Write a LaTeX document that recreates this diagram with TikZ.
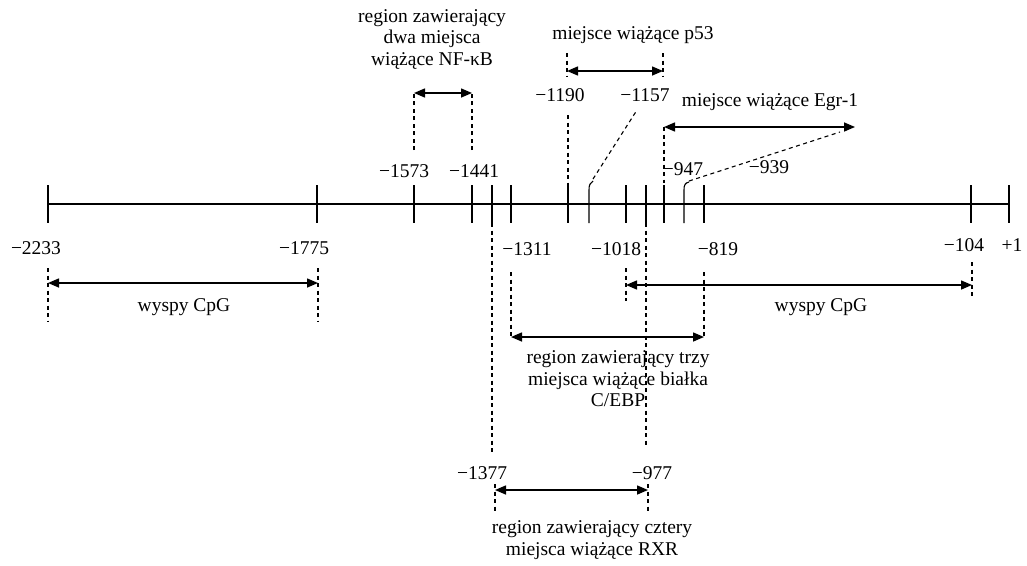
\documentclass[tikz,border=0pt]{standalone}
\usepackage{fontspec}
\setmainfont{Liberation Serif}
\usetikzlibrary{arrows.meta,calc}
\tikzset{
  baseline/.style={line width=1.1pt},
  tickline/.style={line width=1.1pt},
  guide/.style={line width=1.1pt, dash pattern=on 4pt off 3.5pt},
  span/.style={line width=1.5pt, {Triangle[length=11pt,width=9pt]}-{Triangle[length=11pt,width=9pt]}},
  lbl/.style={font=\fontsize{19.5}{21.5}\selectfont, inner sep=0pt},
  blk/.style={lbl, align=center},
}
\begin{document}
\begin{tikzpicture}[x=1pt,y=-1pt]
\useasboundingbox (0,0) rectangle (1027,565);
% main line
\coordinate (L) at (48,204);
\coordinate (R) at (1009,204);
\draw[baseline] (L) -- (R);
% ticks
\foreach \n/\x in {2233/48, 1775/317, 1573/414, 1441/472, 1377/492, 1311/511, 1190/568, 1018/626, 977/646, 947/664, 819/704, 104/971, p1/1009}{
  \coordinate (t\n) at (\x,204);
  \draw[tickline] ($(t\n)+(0,-19)$) -- ($(t\n)+(0,19)$);
}
\coordinate (t1157) at (589,204);
\coordinate (t939) at (684,204);
\draw[tickline] ($(t1157)+(0,19)$) -- ($(t1157)+(0,-14)$) .. controls ($(t1157)+(0,-19)$) and ($(t1157)+(1,-21)$) .. ($(t1157)+(4,-23)$);
\draw[tickline] ($(t939)+(0,19)$) -- ($(t939)+(0,-14)$) .. controls ($(t939)+(0,-19)$) and ($(t939)+(1,-21)$) .. ($(t939)+(5,-22)$);

% labels above
\node[lbl] (l1573) at (404,171) {−1573};
\node[lbl] (l1441) at (474,171) {−1441};
\node[lbl] (l947) at (683,169) {−947};
\node[lbl] (l939) at (769,167) {−939};
\node[lbl] (l1190) at (560,95) {−1190};
\node[lbl] (l1157) at (645,95) {−1157};
\node[blk] (nftxt) at (432,39) {region zawierający\\dwa miejsca\\wiążące NF-κB};
\node[lbl] (p53txt) at (633,35) {miejsce wiążące p53};
\node[lbl] (egrtxt) at (770,102) {miejsce wiążące Egr-1};

% labels below
\node[lbl] (l2233) at (36,248) {−2233};
\node[lbl] (l1775) at (304,248) {−1775};
\node[lbl] (l1311) at (527,249) {−1311};
\node[lbl] (l1018) at (616,249) {−1018};
\node[lbl] (l819) at (718,249) {−819};
\node[lbl] (l104) at (964,245) {−104};
\node[lbl] (lp1) at (1012,245) {+1};
\node[lbl] (cpg1) at (184,307) {wyspy CpG};
\node[lbl] (cpg2) at (821,307) {wyspy CpG};
\node[blk] (cebptxt) at (618,379) {region zawierający trzy\\miejsca wiążące białka\\C/EBP};
\node[lbl] (l1377) at (482,473) {−1377};
\node[lbl] (l977) at (652,473) {−977};
\node[blk] (rxrtxt) at (592,540) {region zawierający cztery\\miejsca wiążące RXR};

% NF-kB span
\coordinate (nfA) at (414,93);
\coordinate (nfB) at (472,93);
\coordinate (nfA0) at (414,150);
\coordinate (nfB0) at (472,150);
\draw[guide] (nfA0) -- (nfA);
\draw[guide] (nfB0) -- (nfB);
\draw[span] (nfA) -- (nfB);

% p53 span
\coordinate (pA) at (567,71);
\coordinate (pB) at (663,71);
\draw[guide] (567,53) -- (567,76);
\draw[guide] (663,53) -- (663,76);
\draw[span] (pA) -- (pB);
\draw[guide] (568,115) -- ($(t1190)+(0,-19)$);
\draw[guide] ($(t1157)+(4,-25)$) -- (637,110);

% Egr-1 span
\coordinate (eA) at (664,127);
\coordinate (eB) at (855,127);
\draw[guide] (eA) -- ($(t947)+(0,-21)$);
\draw[span] (eA) -- (eB);
\draw[guide] ($(t939)+(5,-23)$) -- (840,132);

% CpG 1
\coordinate (c1A) at (48,283);
\coordinate (c1B) at (318,283);
\draw[guide] (48,268) -- (48,321);
\draw[guide] (318,268) -- (318,321);
\draw[span] (c1A) -- (c1B);

% CpG 2
\coordinate (c2A) at (626,285);
\coordinate (c2B) at (972,285);
\draw[guide] (626,268) -- (626,301);
\draw[guide] (972,262) -- (972,298);
\draw[span] (c2A) -- (c2B);

% C/EBP
\coordinate (cbA) at (511,337);
\coordinate (cbB) at (704,337);
\draw[guide] (511,272) -- (cbA);
\draw[guide] (704,272) -- (cbB);
\draw[span] (cbA) -- (cbB);

% long guides
\draw[guide] ($(t1377)+(0,19)$) -- (492,452);
\draw[guide] ($(t977)+(0,19)$) -- (646,447);

% RXR
\coordinate (rA) at (495,490);
\coordinate (rB) at (648,490);
\draw[guide] (495,484) -- (495,512);
\draw[guide] (648,484) -- (648,512);
\draw[span] (rA) -- (rB);
\end{tikzpicture}
\end{document}
